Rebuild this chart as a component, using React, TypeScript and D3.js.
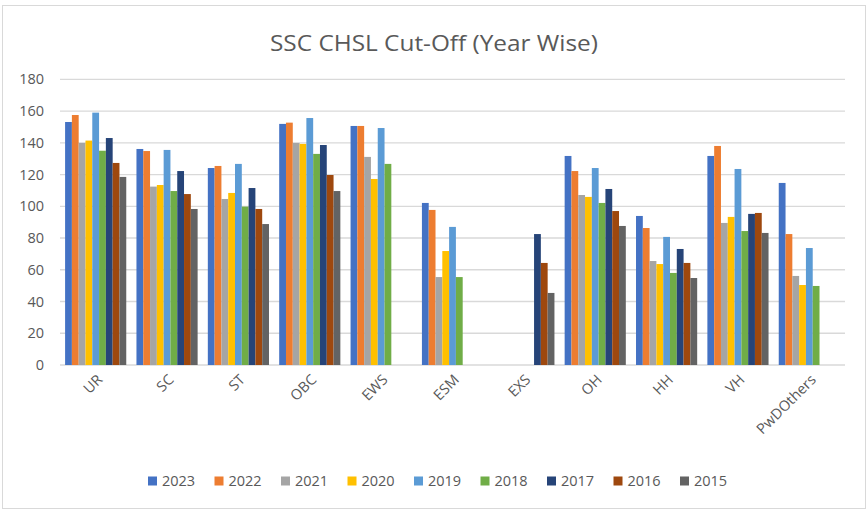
import React from 'react';
import * as d3 from 'd3';

const categories = ['UR', 'SC', 'ST', 'OBC', 'EWS', 'ESM', 'EXS', 'OH', 'HH', 'VH', 'PwDOthers'];
const years = ['2023', '2022', '2021', '2020', '2019', '2018', '2017', '2016', '2015'];
const yTicks = [0, 20, 40, 60, 80, 100, 120, 140, 160, 180];

// one array per year, in category order (null = no bar)
const v2023 = [153.1, 136.1, 124.1, 151.9, 150.6, 102.1, null, 131.7, 93.9, 131.7, 114.7];
const v2022 = [157.5, 134.8, 125.4, 152.7, 150.6, 97.7, null, 122.2, 86.3, 138.0, 82.5];
const v2021 = [139.9, 112.4, 104.6, 139.9, 131.1, 55.4, null, 107.1, 65.5, 89.5, 56.1];
const v2020 = [141.4, 113.4, 108.4, 139.3, 117.2, 71.8, null, 105.9, 63.6, 93.3, 50.4];
const v2019 = [159.0, 135.5, 126.7, 155.6, 149.3, 87.0, null, 124.1, 80.7, 123.5, 73.7];
const v2018 = [135.0, 109.6, 99.8, 133.0, 126.7, 55.4, null, 102.1, 58.0, 84.4, 49.8];
const v2017 = [143.0, 122.2, 111.5, 138.6, null, null, 82.5, 110.9, 73.1, 95.2, null];
const v2016 = [127.3, 107.7, 98.3, 119.7, null, null, 64.3, 97.0, 64.3, 95.8, null];
const v2015 = [118.5, 98.3, 88.8, 109.6, null, null, 45.4, 87.6, 54.8, 83.2, null];

const seriesValues = [v2023, v2022, v2021, v2020, v2019, v2018, v2017, v2016, v2015];
const colors = ['#4472C4', '#ED7D31', '#A5A5A5', '#FFC000', '#5B9BD5', '#70AD47', '#264478', '#9E480E', '#636363'];

const W = 868;
const H = 510;
const plot = { left: 60, right: 845, top: 79.3, bottom: 365 };
const textColor = '#595959';
const font = '"Open Sans", "Noto Sans", sans-serif';

export default function App() {
  const x = d3.scaleBand<string>()
    .domain(categories)
    .range([plot.left, plot.right])
    .paddingInner(0.143)
    .paddingOuter(0.0714);

  const xs = d3.scaleBand<string>()
    .domain(years)
    .range([0, x.bandwidth()]);

  const y = d3.scaleLinear()
    .domain([0, 180])
    .range([plot.bottom, plot.top]);

  const legendX = d3.scaleBand<string>()
    .domain(years)
    .range([148, 148 + 66.5 * years.length]);

  return (
    <svg width={W} height={H} style={{ position: 'absolute', left: 0, top: 0, display: 'block' }} fontFamily={font}>
      <rect x={0} y={0} width={W} height={H} fill="#fff" />
      <rect x={2.5} y={5.5} width={863} height={503} fill="none" stroke="#d9d9d9" />

      <text x={434} y={51} textAnchor="middle" fontSize={22} fill={textColor} textLength={328} lengthAdjust="spacingAndGlyphs">
        SSC CHSL Cut-Off (Year Wise)
      </text>

      {/* grid + y labels */}
      {yTicks.map(t => (
        <g key={t}>
          <line x1={plot.left} x2={plot.right} y1={y(t)} y2={y(t)} stroke="#d9d9d9" strokeWidth={1.3} />
          <text x={44} y={y(t)} dy="0.35em" textAnchor="end" fontSize={14.5} fill={textColor}>{t}</text>
        </g>
      ))}

      {/* bars */}
      {seriesValues.map((vals, si) => (
        <g key={years[si]} fill={colors[si]}>
          {vals.map((v, ci) => v == null ? null : (
            <rect
              key={categories[ci]}
              x={(x(categories[ci]) || 0) + (xs(years[si]) || 0)}
              y={y(v)}
              width={xs.bandwidth()}
              height={y(0) - y(v)}
            />
          ))}
        </g>
      ))}

      {/* x labels */}
      {categories.map(c => {
        const cx = (x(c) || 0) + x.bandwidth() / 2 + 4;
        const cy = plot.bottom + 12;
        return (
          <text key={c} x={cx} y={cy} textAnchor="end" fontSize={14.5} fill={textColor}
            transform={`rotate(-45, ${cx}, ${cy})`} dy="0.35em">
            {c}
          </text>
        );
      })}

      {/* legend */}
      {years.map((yr, i) => (
        <g key={yr} transform={`translate(${legendX(yr)}, 481)`}>
          <rect x={0} y={-4.5} width={9} height={9} fill={colors[i]} />
          <text x={14} y={0} dy="0.35em" fontSize={14.5} fill={textColor}>{yr}</text>
        </g>
      ))}
    </svg>
  );
}
